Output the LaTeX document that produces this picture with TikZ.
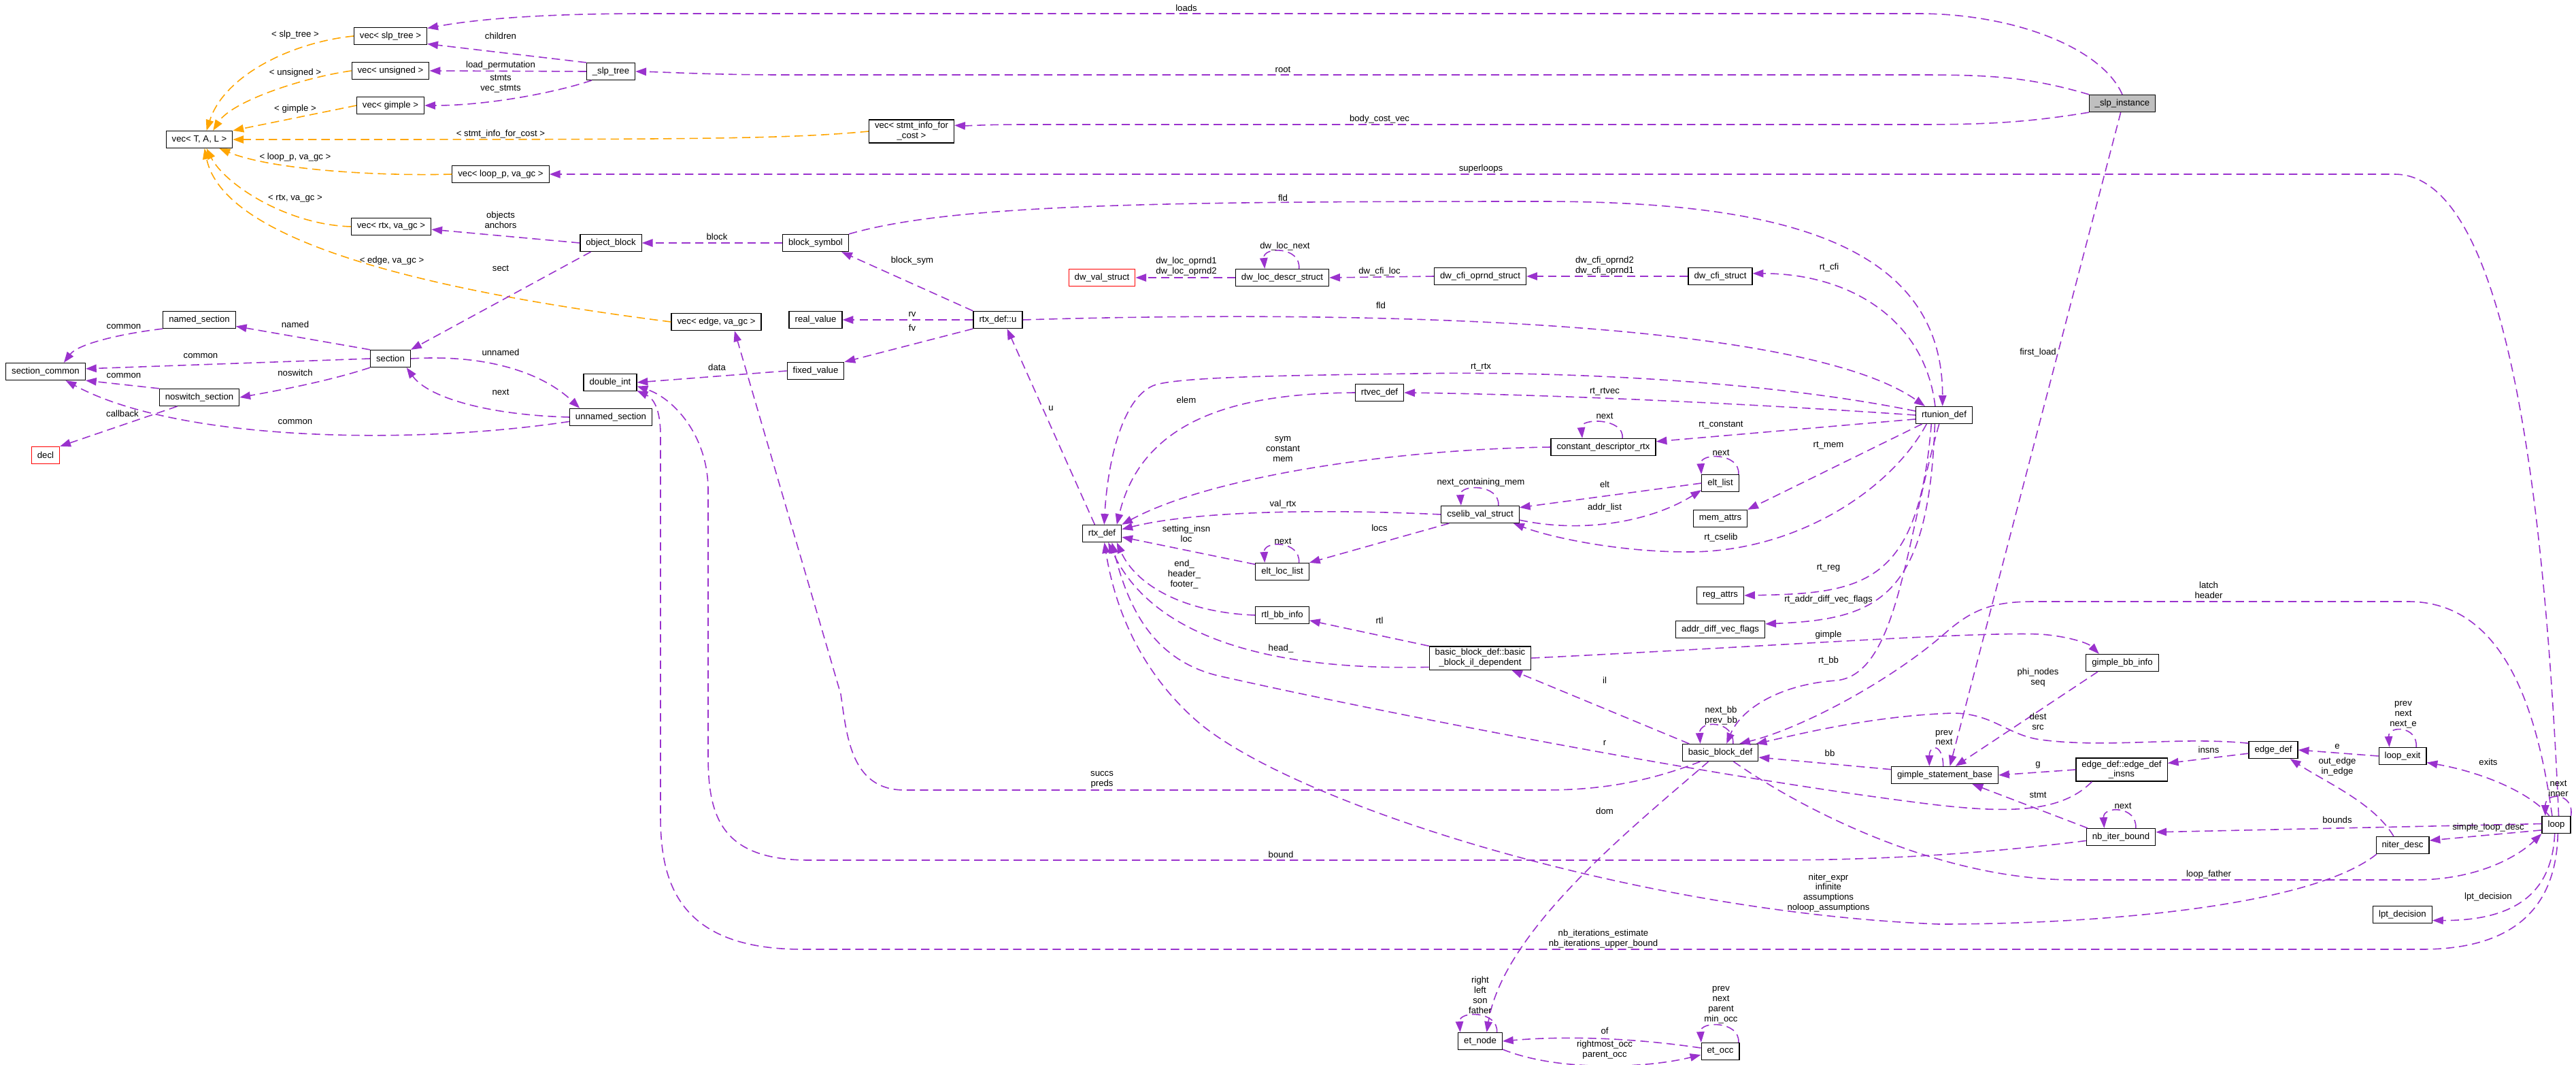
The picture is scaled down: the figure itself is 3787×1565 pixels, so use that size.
\documentclass[tikz,border=0pt]{standalone}
\usepackage{fontspec}
\setmainfont{Liberation Sans}
\usetikzlibrary{arrows.meta}
\definecolor{orchid}{HTML}{9A32CD}
\definecolor{tmplorange}{HTML}{FFA500}
\newcommand{\fsz}{\fontsize{7.5}{8.5}\selectfont}

\begin{document}
\begin{tikzpicture}[x=0.02cm,y=-0.02cm,font=\fsz,
 cls/.style={draw,line width=0.7pt,fill=white,minimum height=0.5cm,inner xsep=0.17cm,inner ysep=2pt,align=center},
 trunc/.style={cls,draw=red},
 root/.style={cls,fill=black!25},
 use/.style={draw=orchid,line width=0.9pt,dash pattern=on 7pt off 4pt,-{Triangle[length=9pt,width=6.5pt]}},
 tmpl/.style={use,draw=tmplorange},
 lbl/.style={inner sep=0.5pt,align=center}]
\useasboundingbox (0,0) rectangle (3787,1565);
% classes
\node[root] (inst) at (3120,152) {\_slp\_instance};
\node[cls] (vst) at (574,53) {vec< slp\_tree >};
\node[cls] (vun) at (574,104) {vec< unsigned >};
\node[cls] (vgi) at (574,155) {vec< gimple >};
\node[cls] (vtal) at (293,205) {vec< T, A, L >};
\node[cls] (vsic) at (1340,193) {vec< stmt\_info\_for\\\_cost >};
\node[cls] (vlp) at (736,256) {vec< loop\_p, va\_gc >};
\node[cls] (vrtx) at (575,333) {vec< rtx, va\_gc >};
\node[cls] (slpt) at (898,105) {\_slp\_tree};
\node[cls] (ob) at (898,357) {object\_block};
\node[cls] (bs) at (1199,357) {block\_symbol};
\node[cls] (vedge) at (1053,473) {vec< edge, va\_gc >};
\node[cls] (rv) at (1199,470) {real\_value};
\node[cls] (fv) at (1199,545) {fixed\_value};
\node[cls] (rdu) at (1467,470) {rtx\_def::u};
\node[trunc] (dvs) at (1620,408) {dw\_val\_struct};
\node[cls] (dlds) at (1885,408) {dw\_loc\_descr\_struct};
\node[cls] (dcos) at (2176,406) {dw\_cfi\_oprnd\_struct};
\node[cls] (dcs) at (2529,406) {dw\_cfi\_struct};
\node[cls] (rud) at (2858,610) {rtunion\_def};
\node[cls] (nsec) at (293,470) {named\_section};
\node[cls] (sec) at (574,527) {section};
\node[cls] (scom) at (67,546) {section\_common};
\node[cls] (nssec) at (293,584) {noswitch\_section};
\node[trunc] (decl) at (67,669) {decl};
\node[cls] (dint) at (897,562) {double\_int};
\node[cls] (usec) at (898,613) {unnamed\_section};
\node[cls] (rtx) at (1620,784) {rtx\_def};
\node[cls] (ell) at (1885,840) {elt\_loc\_list};
\node[cls] (rbi) at (1885,904) {rtl\_bb\_info};
\node[cls] (rvd) at (2028,577) {rtvec\_def};
\node[cls] (cdr) at (2357,657) {constant\_descriptor\_rtx};
\node[cls] (el) at (2529,710) {elt\_list};
\node[cls] (cvs) at (2176,756) {cselib\_val\_struct};
\node[cls] (ma) at (2529,762) {mem\_attrs};
\node[cls] (ra) at (2529,875) {reg\_attrs};
\node[cls] (advf) at (2529,925) {addr\_diff\_vec\_flags};
\node[cls] (bbil) at (2176,967) {basic\_block\_def::basic\\\_block\_il\_dependent};
\node[cls] (gbi) at (3120,974) {gimple\_bb\_info};
\node[cls] (bb) at (2529,1106) {basic\_block\_def};
\node[cls] (gsb) at (2859,1139) {gimple\_statement\_base};
\node[cls] (edi) at (3119,1131) {edge\_def::edge\_def\\\_insns};
\node[cls] (ed) at (3342,1102) {edge\_def};
\node[cls] (lex) at (3532,1111) {loop\_exit};
\node[cls] (nib) at (3118,1230) {nb\_iter\_bound};
\node[cls] (nd) at (3532,1242) {niter\_desc};
\node[cls] (loop) at (3758,1212) {loop};
\node[cls] (lpt) at (3532,1344) {lpt\_decision};
\node[cls] (etn) at (2176,1530) {et\_node};
\node[cls] (eto) at (2529,1545) {et\_occ};
% template instances
\draw[tmpl] (vst.west) .. controls (430,62) and (330,110) .. (vtal.51) node[lbl] at (434,51) {< slp\_tree >};
\draw[tmpl] (vun.west) .. controls (440,115) and (340,150) .. (vtal.33) node[lbl] at (434,107) {< unsigned >};
\draw[tmpl] (vgi.west) -- (vtal.north east) node[lbl] at (434,160) {< gimple >};
\draw[tmpl] (vsic.west) .. controls (1150,205) and (1000,205) .. (vtal.east) node[lbl] at (736,197) {< stmt\_info\_for\_cost >};
\draw[tmpl] (vlp.west) .. controls (560,259) and (400,250) .. (vtal.-24) node[lbl] at (434,231) {< loop\_p, va\_gc >};
\draw[tmpl] (vrtx.west) .. controls (420,330) and (330,270) .. (vtal.-51) node[lbl] at (434,292) {< rtx, va\_gc >};
\draw[tmpl] (vedge.west) .. controls (650,430) and (330,360) .. (vtal.-60) node[lbl] at (576,383) {< edge, va\_gc >};
% _slp_instance and _slp_tree
\draw[use] (inst.north) .. controls (3090,70) and (2960,20) .. (2820,20) -- (950,20) .. controls (780,20) and (690,30) .. (vst.12) node[lbl] at (1744,12) {loads};
\draw[use] (inst.165) .. controls (2980,112) and (2920,110) .. (2820,110) -- (1150,110) .. controls (1050,110) and (980,106) .. (slpt.east) node[lbl] at (1886,102) {root};
\draw[use] (inst.-165) .. controls (2980,180) and (2920,183) .. (2820,183) -- (1500,183) .. controls (1450,183) and (1420,185) .. (vsic.8) node[lbl] at (2028,175) {body\_cost\_vec};
\draw[use] (inst.-100) -- (gsb.60) node[lbl] at (2996,518) {first\_load};
\draw[use] (slpt.north west) -- (vst.-12) node[lbl] at (736,53) {children};
\draw[use] (slpt.west) -- (vun.east) node[lbl] at (736,96) {load\_permutation};
\draw[use] (slpt.-155) .. controls (820,135) and (720,155) .. (vgi.east) node[lbl] at (736,123) {stmts\\vec\_stmts};
% sections
\draw[use] (ob.west) -- (vrtx.-4) node[lbl] at (736,323) {objects\\anchors};
\draw[use] (bs.west) -- (ob.east) node[lbl] at (1054,348) {block};
\draw[use] (ob.-156) -- (sec.north east) node[lbl] at (736,394) {sect};
\draw[use] (sec.north west) -- (nsec.-10) node[lbl] at (434,477) {named};
\draw[use] (sec.west) -- (scom.4) node[lbl] at (295,523) {common};
\draw[use] (nsec.south west) .. controls (180,490) and (115,505) .. (scom.26) node[lbl] at (182,480) {common};
\draw[use] (nssec.north west) -- (scom.south east) node[lbl] at (182,552) {common};
\draw[use] (sec.south west) .. controls (490,558) and (420,572) .. (nssec.east) node[lbl] at (434,548) {noswitch};
\draw[use] (nssec.-158) -- (decl.north east) node[lbl] at (180,608) {callback};
\draw[use] (usec.-174) .. controls (600,655) and (260,648) .. (scom.-24) node[lbl] at (434,620) {common};
\draw[use] (sec.east) .. controls (720,520) and (800,550) .. (usec.164) node[lbl] at (736,518) {unnamed};
\draw[use] (usec.west) .. controls (720,610) and (630,585) .. (sec.-29) node[lbl] at (736,576) {next};
\draw[use] (fv.west) -- (dint.east) node[lbl] at (1054,540) {data};
% rtx_def::u
\draw[use] (rdu.west) -- (rv.east) node[lbl] at (1341,462) {rv};
\draw[use] (rdu.south west) -- (fv.north east) node[lbl] at (1341,482) {fv};
\draw[use] (rdu.north west) -- (bs.-19) node[lbl] at (1341,383) {block\_sym};
\draw[use] (bs.north east) .. controls (1400,300) and (1700,296) .. (2264,296) .. controls (2600,296) and (2856,350) .. (rud.100) node[lbl] at (1886,291) {fld};
\draw[use] (rdu.east) .. controls (2000,455) and (2650,470) .. (rud.155) node[lbl] at (2030,449) {fld};
\draw[use] (rtx.129) -- (rdu.-44) node[lbl] at (1545,600) {u};
% dwarf
\draw[use] (dlds.west) -- (dvs.east) node[lbl] at (1744,392) {dw\_loc\_oprnd1\\dw\_loc\_oprnd2};
\draw[use] (dlds.28) .. controls +(3,-33) and +(-3,-33) .. (dlds.153) node[lbl] at (1889,362) {dw\_loc\_next};
\draw[use] (dcos.west) -- (dlds.east) node[lbl] at (2028,399) {dw\_cfi\_loc};
\draw[use] (dcs.west) -- (dcos.east) node[lbl] at (2359,391) {dw\_cfi\_oprnd2\\dw\_cfi\_oprnd1};
\draw[use] (rud.135) .. controls (2830,470) and (2720,402) .. (dcs.5) node[lbl] at (2689,393) {rt\_cfi};
% rtunion_def
\draw[use] (rud.172) .. controls (2600,560) and (2300,545) .. (2080,549) .. controls (1850,552) and (1740,555) .. (1700,565) .. controls (1650,580) and (1628,680) .. (rtx.76) node[lbl] at (2177,540) {rt\_rtx};
\draw[use] (rud.180) .. controls (2600,595) and (2300,580) .. (rvd.east) node[lbl] at (2359,576) {rt\_rtvec};
\draw[use] (rud.-172) -- (cdr.6) node[lbl] at (2530,625) {rt\_constant};
\draw[use] (rud.-158) -- (ma.north east) node[lbl] at (2688,655) {rt\_mem};
\draw[use] (rud.-153) .. controls (2780,720) and (2640,812) .. (2480,811) .. controls (2380,811) and (2280,790) .. (cvs.-15) node[lbl] at (2530,790) {rt\_cselib};
\draw[use] (rud.-145) .. controls (2820,860) and (2740,872) .. (ra.east) node[lbl] at (2688,835) {rt\_reg};
\draw[use] (rud.-136) .. controls (2835,880) and (2760,910) .. (advf.7) node[lbl] at (2688,881) {rt\_addr\_diff\_vec\_flags};
\draw[use] (rud.-119) .. controls (2800,800) and (2790,990) .. (2700,1000) .. controls (2620,1005) and (2560,1040) .. (bb.55) node[lbl] at (2688,971) {rt\_bb};
% rtx_def
\draw[use] (rvd.west) .. controls (1830,578) and (1680,610) .. (rtx.31) node[lbl] at (1744,588) {elem};
\draw[use] (cdr.west) .. controls (2050,660) and (1780,700) .. (rtx.north east) node[lbl] at (1886,660) {sym\\constant\\mem};
\draw[use] (cvs.west) .. controls (1950,748) and (1760,750) .. (rtx.12) node[lbl] at (1886,741) {val\_rtx};
\draw[use] (ell.165) -- (rtx.-10) node[lbl] at (1744,784) {setting\_insn\\loc};
\draw[use] (rbi.west) .. controls (1740,900) and (1670,860) .. (rtx.-31) node[lbl] at (1741,844) {end\_\\header\_\\footer\_};
\draw[use] (bbil.-170) .. controls (1900,985) and (1700,950) .. (rtx.-55) node[lbl] at (1883,953) {head\_};
\draw[use] (edi.-158) .. controls (3030,1195) and (2950,1195) .. (2840,1182) .. controls (2500,1140) and (2000,1040) .. (1800,995) .. controls (1700,975) and (1660,900) .. (rtx.-42) node[lbl] at (2359,1092) {r};
\draw[use] (nd.-161) .. controls (3400,1330) and (3100,1358) .. (2850,1358) .. controls (2400,1340) and (1900,1180) .. (1760,1060) .. controls (1680,990) and (1640,900) .. (rtx.-75) node[lbl] at (2688,1312) {niter\_expr\\infinite\\assumptions\\noloop\_assumptions};
% cselib
\draw[use] (cdr.25) .. controls +(3,-30) and +(-3,-30) .. (cdr.157) node[lbl] at (2359,611) {next};
\draw[use] (cvs.26) .. controls +(2,-32) and +(-2,-32) .. (cvs.155) node[lbl] at (2177,709) {next\_containing\_mem};
\draw[use] (el.west) -- (cvs.10) node[lbl] at (2359,712) {elt};
\draw[use] (cvs.-8) .. controls (2330,785) and (2430,765) .. (el.-160) node[lbl] at (2359,746) {addr\_list};
\draw[use] (el.26) .. controls +(2,-32) and +(-2,-32) .. (el.155) node[lbl] at (2530,665) {next};
\draw[use] (cvs.-164) -- (ell.north east) node[lbl] at (2028,776) {locs};
\draw[use] (ell.28) .. controls +(2,-33) and +(-2,-33) .. (ell.153) node[lbl] at (1886,795) {next};
% basic blocks
\draw[use] (bbil.east) .. controls (2600,950) and (2900,928) .. (3000,932) .. controls (3040,935) and (3070,945) .. (gbi.159) node[lbl] at (2688,933) {gimple};
\draw[use] (bbil.north west) -- (rbi.-11) node[lbl] at (2028,912) {rtl};
\draw[use] (bb.164) -- (bbil.-21) node[lbl] at (2359,1000) {il};
\draw[use] (bb.35) .. controls +(2,-35) and +(-2,-35) .. (bb.156) node[lbl] at (2530,1052) {next\_bb\\prev\_bb};
\draw[use] (gsb.174) -- (bb.-7) node[lbl] at (2690,1107) {bb};
\draw[use] (gbi.-160) -- (gsb.40) node[lbl] at (2996,996) {phi\_nodes\\seq};
\draw[use] (gsb.100) .. controls +(0,-33) and +(0,-33) .. (gsb.150) node[lbl] at (2858,1084) {prev\\next};
\draw[use] (edi.west) -- (gsb.east) node[lbl] at (2996,1124) {g};
\draw[use] (nib.165) -- (gsb.-18) node[lbl] at (2996,1168) {stmt};
\draw[use] (nib.31) .. controls +(2,-33) and +(-2,-33) .. (nib.152) node[lbl] at (3121,1184) {next};
\draw[use] (ed.-172) -- (edi.8) node[lbl] at (3247,1102) {insns};
\draw[use] (ed.165) .. controls (3200,1082) and (3100,1100) .. (3000,1087) .. controls (2950,1080) and (2930,1048) .. (2870,1048) .. controls (2750,1052) and (2640,1080) .. (bb.14) node[lbl] at (2996,1060) {dest\\src};
\draw[use] (lex.west) -- (ed.east) node[lbl] at (3436,1097) {e};
\draw[use] (lex.33) .. controls +(2,-32) and +(-2,-32) .. (lex.146) node[lbl] at (3533,1050) {prev\\next\\next\_e};
\draw[use] (nd.135) .. controls (3490,1180) and (3420,1150) .. (ed.-28) node[lbl] at (3436,1127) {out\_edge\\in\_edge};
% loop
\draw[use] (loop.75) .. controls (3740,700) and (3680,256) .. (3520,256) -- (vlp.east) node[lbl] at (2177,248) {superloops};
\draw[use] (loop.115) .. controls (3730,1040) and (3680,884) .. (3540,884) -- (2990,884) .. controls (2930,884) and (2900,895) .. (2860,930) .. controls (2780,1000) and (2650,1070) .. (bb.25) node[lbl] at (3247,867) {latch\\header};
\draw[use] (loop.128) .. controls (3720,1165) and (3650,1135) .. (lex.-15) node[lbl] at (3658,1120) {exits};
\draw[use] (loop.north east) .. controls +(5,-35) and +(0,-35) .. (loop.141) node[lbl] at (3761,1159) {next\\inner};
\draw[use] (loop.176) -- (nib.8) node[lbl] at (3436,1205) {bounds};
\draw[use] (loop.-160) -- (nd.10) node[lbl] at (3658,1216) {simple\_loop\_desc};
\draw[use] (loop.-100) .. controls (3752,1310) and (3700,1353) .. (lpt.-11) node[lbl] at (3658,1318) {lpt\_decision};
\draw[use] (loop.-80) .. controls (3758,1330) and (3700,1395) .. (3560,1395) -- (1180,1395) .. controls (1000,1395) and (971,1300) .. (971,1200) -- (971,640) .. controls (971,600) and (960,585) .. (dint.-17) node[lbl] at (2357,1380) {nb\_iterations\_estimate\\nb\_iterations\_upper\_bound};
\draw[use] (bb.-34) .. controls (2650,1190) and (2850,1293) .. (3050,1293) -- (3550,1293) .. controls (3640,1293) and (3700,1260) .. (loop.south west) node[lbl] at (3247,1285) {loop\_father};
\draw[use] (nib.-174) .. controls (2950,1250) and (2800,1264) .. (2600,1264) -- (1190,1264) .. controls (1060,1264) and (1041,1200) .. (1041,1110) -- (1041,720) .. controls (1041,640) and (990,585) .. (dint.-8) node[lbl] at (1883,1256) {bound};
\draw[use] (bb.-156) .. controls (2420,1150) and (2350,1161) .. (2270,1161) -- (1330,1161) .. controls (1250,1161) and (1245,1080) .. (1236,1020) -- (vedge.-26) node[lbl] at (1620,1146) {succs\\preds};
% dominance tree
\draw[use] (bb.-143) .. controls (2402,1214) and (2210,1367) .. (etn.54) node[lbl] at (2359,1192) {dom};
\draw[use] (etn.28) .. controls +(2,-32) and +(-2,-32) .. (etn.156) node[lbl] at (2176,1462) {right\\left\\son\\father};
\draw[use] (eto.170) .. controls (2400,1525) and (2300,1522) .. (etn.east) node[lbl] at (2359,1515) {of};
\draw[use] (etn.-20) .. controls (2290,1575) and (2420,1570) .. (eto.-170) node[lbl] at (2359,1543) {rightmost\_occ\\parent\_occ};
\draw[use] (eto.26) .. controls +(2,-32) and +(-2,-32) .. (eto.155) node[lbl] at (2530,1477) {prev\\next\\parent\\min\_occ};
\end{tikzpicture}
\end{document}
